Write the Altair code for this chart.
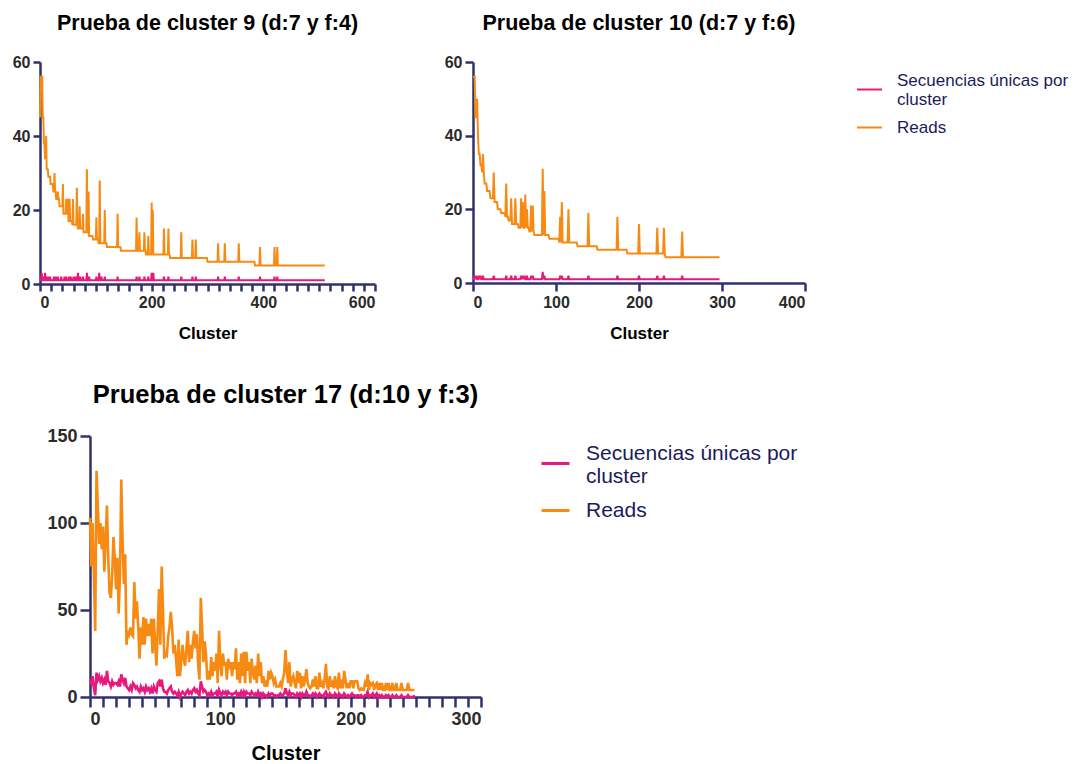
import altair as alt
import pandas as pd

SEC = "Secuencias únicas por cluster"
READS = "Reads"
PINK = "#E8197D"
ORANGE = "#F78A12"
NAVY = "#31316F"
FONT = "Liberation Sans"

# ---------------- Cluster 9 (d:7 y f:4) ----------------
c9_end = 510
c9_step_start = [0, 1, 5, 7, 9, 12, 15, 19, 24, 29, 35, 42, 50, 58, 68, 78, 88, 95, 105, 120, 145, 190, 233, 300, 385]
c9_step_value = [45, 56, 45, 38, 34, 31, 29, 27, 25, 23, 21, 19, 17, 16, 15, 14, 13, 12, 11, 10, 9, 8, 7, 6, 5]
c9_spike_x = [11, 26, 32, 41, 47, 50, 53, 59, 66, 71, 77, 84, 87, 101, 107, 116, 139, 173, 178, 187, 194, 200, 202, 222, 230, 253, 273, 279, 319, 331, 356, 394, 420, 425]
c9_spike_v = [40, 30, 25, 27, 23, 23, 23, 23, 26, 21, 19, 31, 25, 18, 28, 20, 19, 18, 14, 14, 13, 22, 20, 15, 15, 14, 12, 12, 11, 11, 11, 10, 10, 10]
c9_uniq_x = [3, 6, 9, 12, 15, 18, 25, 28, 32, 38, 44, 47, 52, 55, 60, 64, 68, 72, 77, 84, 88, 101, 106, 110, 116, 139, 173, 178, 187, 194, 200, 203, 222, 230, 253, 273, 279, 319, 331, 356, 394, 420, 425]
c9_uniq_v = [3, 2, 3, 2, 2, 2, 2, 2, 2, 2, 2, 2, 2, 2, 2, 2, 3, 2, 2, 3, 2, 2, 3, 2, 2, 2, 2, 2, 2, 2, 3, 3, 2, 2, 2, 2, 2, 2, 2, 2, 2, 2, 2]

# ---------------- Cluster 10 (d:7 y f:6) ----------------
c10_end = 297
c10_step_start = [0, 3, 5, 7, 9, 11, 14, 17, 21, 25, 30, 34, 39, 43, 47, 55, 68, 74, 92, 104, 126, 150, 186, 232]
c10_step_value = [56, 45, 40, 35, 32, 30, 27, 25, 23, 22, 20, 19, 18, 17, 16, 15, 14, 13, 12, 11, 10, 9, 8, 7]
c10_spike_x = [5, 12, 25, 40, 46, 51, 58, 60, 63, 65, 70, 72, 84, 86, 105, 107, 115, 139, 174, 200, 222, 230, 252]
c10_spike_v = [50, 35, 30, 27, 23, 23, 23, 22, 24, 20, 21, 21, 31, 25, 18, 22, 20, 19, 18, 16, 15, 15, 14]
c10_uniq_x = [2, 4, 7, 9, 12, 25, 40, 46, 51, 58, 60, 62, 65, 70, 72, 84, 86, 105, 107, 115, 139, 174, 200, 222, 230, 252]
c10_uniq_v = [2, 2, 2, 2, 2, 2, 2, 2, 2, 2, 2, 2, 2, 2, 2, 3, 2, 2, 2, 2, 2, 2, 2, 2, 2, 2]

# ---------------- Cluster 17 (d:10 y f:3) ----------------
c17_reads = [
    103, 75, 100, 70, 38, 130, 110, 88, 100, 85,
    98, 72, 90, 110, 80, 60, 57, 70, 92, 80,
    62, 80, 48, 70, 125, 90, 65, 82, 30, 38,
    36, 40, 36, 35, 66, 45, 55, 40, 22, 40,
    30, 46, 30, 45, 35, 42, 35, 45, 25, 45,
    30, 18, 40, 62, 30, 75, 50, 22, 25, 24,
    35, 40, 49, 40, 25, 30, 22, 12, 33, 12,
    20, 30, 22, 18, 28, 38, 20, 30, 22, 32,
    38, 28, 36, 18, 10, 57, 40, 20, 32, 25,
    10, 15, 10, 23, 12, 20, 15, 25, 8, 38,
    20, 12, 25, 18, 20, 10, 22, 18, 20, 12,
    20, 16, 28, 10, 20, 8, 25, 12, 26, 8,
    26, 15, 20, 8, 22, 14, 10, 18, 8, 25,
    12, 20, 8, 12, 6, 8, 6, 15, 10, 14,
    12, 8, 10, 6, 6, 6, 8, 6, 10, 14,
    27, 15, 8, 20, 6, 10, 12, 8, 5, 15,
    8, 14, 5, 12, 6, 10, 16, 8, 6, 5,
    6, 10, 6, 12, 5, 5, 14, 6, 8, 5,
    10, 19, 6, 5, 12, 6, 8, 5, 12, 6,
    5, 14, 5, 10, 5, 15, 10, 5, 8, 5,
    9, 9, 5, 9, 9, 9, 5, 4, 5, 4,
    4, 8, 6, 13, 4, 8, 7, 8, 4, 7,
    8, 4, 8, 4, 8, 4, 4, 8, 4, 8,
    4, 4, 8, 4, 4, 8, 4, 4, 4, 8,
    4, 4, 4, 4, 8, 4, 4, 4, 4, 4,
]
c17_uniq = [
    10, 8, 12, 5, 1, 14, 10, 12, 9, 11,
    8, 10, 7, 15, 9, 8, 6, 9, 7, 8,
    8, 7, 9, 6, 13, 10, 8, 11, 6, 5,
    4, 6, 4, 8, 7, 5, 6, 4, 3, 6,
    4, 5, 3, 6, 4, 5, 3, 5, 2, 6,
    4, 3, 8, 9, 6, 10, 5, 3, 3, 2,
    4, 5, 6, 3, 2, 3, 2, 1, 3, 0,
    2, 3, 2, 1, 3, 4, 2, 3, 2, 4,
    5, 3, 4, 2, 1, 9, 6, 3, 4, 3,
    1, 2, 1, 3, 1, 2, 2, 3, 0, 4,
    2, 1, 3, 2, 3, 1, 3, 2, 2, 1,
    2, 2, 3, 1, 2, 1, 3, 1, 3, 1,
    3, 2, 2, 1, 3, 2, 1, 2, 1, 3,
    1, 2, 0, 2, 1, 1, 0, 2, 1, 2,
    2, 1, 1, 0, 1, 1, 2, 1, 1, 2,
    5, 2, 1, 3, 1, 2, 2, 1, 0, 2,
    1, 2, 0, 2, 1, 1, 3, 1, 1, 0,
    1, 2, 1, 2, 0, 1, 2, 1, 1, 0,
    2, 3, 1, 0, 2, 1, 1, 0, 2, 1,
    0, 2, 1, 1, 0, 2, 1, 0, 1, 0,
    1, 2, 1, 1, 0, 1, 1, 0, 1, 0,
    0, 1, 1, 3, 0, 1, 1, 2, 0, 1,
    2, 0, 1, 0, 1, 0, 0, 1, 0, 1,
    0, 0, 1, 0, 0, 1, 0, 0, 0, 1,
    0, 0, 0, 0, 1, 0, 0, 0, 0, 1,
]


def steps(starts, values, end):
    out = []
    for i, (s, v) in enumerate(zip(starts, values)):
        e = starts[i + 1] if i + 1 < len(starts) else end + 1
        out += [v] * (e - s)
    return out


def with_spikes(base, xs, vs):
    out = list(base)
    for x, v in zip(xs, vs):
        out[x] = v
    return out


def frame(reads, uniq):
    rows = []
    for i, v in enumerate(uniq):
        rows.append({"Cluster": i, "Valor": v, "Serie": SEC})
    for i, v in enumerate(reads):
        rows.append({"Cluster": i, "Valor": v, "Serie": READS})
    return pd.DataFrame(rows)


c9_reads = with_spikes(steps(c9_step_start, c9_step_value, c9_end), c9_spike_x, c9_spike_v)
c9_u = with_spikes([1] * (c9_end + 1), c9_uniq_x, c9_uniq_v)
c10_reads = with_spikes(steps(c10_step_start, c10_step_value, c10_end), c10_spike_x, c10_spike_v)
c10_u = with_spikes([1] * (c10_end + 1), c10_uniq_x, c10_uniq_v)

df9 = frame(c9_reads, c9_u)
df10 = frame(c10_reads, c10_u)
df17 = frame(c17_reads, c17_uniq)

LABEL_EXPR = "datum.value === 'Reads' ? 'Reads' : ['Secuencias únicas por', 'cluster']"
BASELINE_EXPR = "datum.value === 'Reads' ? 'middle' : 'bottom'"


def panel(df, title, tsize, toff, xmax, xvals, xmajor, yvals, w, h,
          lab, tit, tpad, tick, yext, stroke, legend):
    x_axis = alt.Axis(
        values=xvals, labelExpr=f"datum.value % {xmajor} === 0 ? datum.label : ''",
        labelOverlap=False, tickSize=tick, labelFontSize=lab, titleFontSize=tit,
        labelPadding=3, titlePadding=tpad, title="Cluster",
    )
    y_axis = alt.Axis(
        values=yvals, tickSize=tick, labelFontSize=lab, labelPadding=3,
        title=None, minExtent=yext, maxExtent=yext, labelOverlap=False,
    )
    return alt.Chart(df).mark_line(strokeWidth=stroke, strokeJoin="miter").encode(
        x=alt.X("Cluster:Q", scale=alt.Scale(domain=[0, xmax], nice=False), axis=x_axis),
        y=alt.Y("Valor:Q", scale=alt.Scale(domain=[0, yvals[-1]], nice=False), axis=y_axis),
        color=alt.Color("Serie:N", scale=alt.Scale(domain=[SEC, READS], range=[PINK, ORANGE]),
                        legend=legend),
        detail="Serie:N",
    ).properties(
        width=w, height=h,
        title=alt.TitleParams(title, fontSize=tsize, font=FONT, fontWeight="bold",
                              color="#000000", anchor="middle", offset=toff),
    )


def legend(x, y, size, offset, stroke, symsize, rowpad):
    return alt.Legend(
        orient="none", legendX=x, legendY=y, title=None, labelExpr=LABEL_EXPR,
        labelFontSize=size, labelFont=FONT, labelColor="#1B1B5C", labelLimit=400,
        labelBaseline=alt.ExprRef(expr=BASELINE_EXPR),
        symbolType="stroke", symbolSize=symsize, symbolStrokeWidth=stroke,
        labelOffset=offset, rowPadding=rowpad, padding=0,
    )


p9 = panel(df9, "Prueba de cluster 9 (d:7 y f:4)", 21.5, 20, 600, list(range(0, 601, 20)), 200,
           [0, 20, 40, 60], 335, 222, 16, 17, 15, 7, 32, 2, None)
p10 = panel(df10, "Prueba de cluster 10 (d:7 y f:6)", 21.5, 20, 400, [0, 100, 200, 300, 400], 100,
            [0, 20, 40, 60], 332, 221, 16, 17, 15, 8, 32, 2,
            legend(383, 14, 17, 14, 2, 625, 6))
p17 = panel(df17, "Prueba de cluster 17 (d:10 y f:3)", 25.5, 19, 300, list(range(0, 301, 10)), 100,
            [0, 50, 100, 150], 391, 261, 18, 20, 15, 10, 46, 2.6,
            legend(450, 12, 21, 15, 3, 784, 8))

spacer = alt.Chart(pd.DataFrame({"v": [0]})).mark_point(opacity=0).encode(
    x=alt.X("v:Q", axis=None), y=alt.Y("v:Q", axis=None)
).properties(width=1, height=1)

top = alt.hconcat(p9, p10, spacing=64).resolve_legend(color="independent")
bottom = alt.hconcat(spacer, p17, spacing=0).resolve_legend(color="independent")
chart = alt.vconcat(top, bottom, spacing=41).resolve_legend(
    color="independent"
).properties(padding={"left": 0, "top": 4, "right": 0, "bottom": 0}).configure_view(
    stroke=None
).configure_axis(
    grid=False, domainColor=NAVY, tickColor=NAVY, domainWidth=2.5, tickWidth=2.5,
    labelFont=FONT, labelFontWeight="bold", labelColor="#2B2B2B",
    titleFont=FONT, titleFontWeight="bold", titleColor="#000000",
)

chart.save("out.html", embed_options={"renderer": "svg", "actions": False})
